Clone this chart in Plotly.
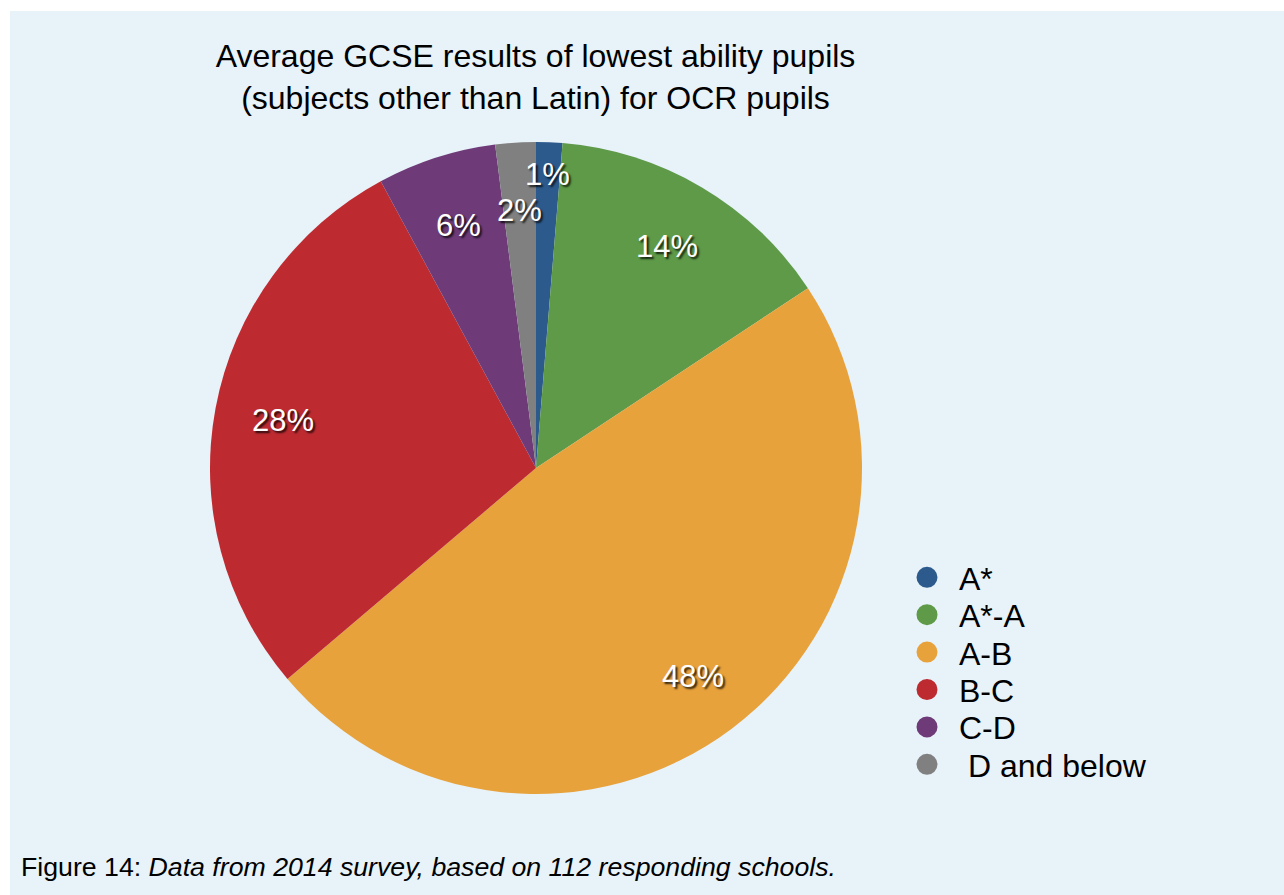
import math
import plotly.graph_objects as go

# ---- data ----
categories = ["A*", "A*-A", "A-B", "B-C", "C-D", "\u00a0D and below"]
values = [1.3, 14.4, 48.1, 28.3, 5.9, 2.0]
colors = ["#2D5A8C", "#5E9A48", "#E8A23C", "#BD2B31", "#6E3B78", "#808080"]

title_text = "Average GCSE results of lowest ability pupils<br>(subjects other than Latin) for OCR pupils"
footnote_plain = "Figure 14: "
footnote_italic = "Data from 2014 survey, based on 112 responding schools."

# ---- layout constants (pixels) ----
W, H = 1284, 895
CX, CY, R = 536, 468, 326
BG = "#E7F2F9"
FONT = "Liberation Sans, Arial, Helvetica, sans-serif"
label_radius = [0.9, 0.79, 0.8, 0.79, 0.78, 0.79]

fig = go.Figure()

fig.add_trace(go.Pie(
    labels=categories,
    values=values,
    sort=False,
    direction="clockwise",
    rotation=0,
    marker=dict(colors=colors, line=dict(width=0)),
    textinfo="none",
    hoverinfo="label+percent",
    showlegend=False,
    domain=dict(x=[(CX - R) / W, (CX + R) / W], y=[1 - (CY + R) / H, 1 - (CY - R) / H]),
))

# legend entries as circle markers, one legend per row for exact spacing
legend_layouts = {}
row_y0, row_step = 577.5, 37.4
for i, (cat, col) in enumerate(zip(categories, colors)):
    lname = "legend" if i == 0 else f"legend{i+1}"
    fig.add_trace(go.Scatter(
        x=[None], y=[None], mode="markers", name=cat,
        marker=dict(color=col, size=16, symbol="circle", line=dict(color=col, width=5)),
        legend=lname, showlegend=True,
    ))
    legend_layouts[lname] = dict(
        x=895 / W, xanchor="left",
        y=1 - (row_y0 + i * row_step) / H, yanchor="middle",
        bgcolor="rgba(0,0,0,0)", borderwidth=0,
        itemwidth=54,
        font=dict(family=FONT, size=32, color="#000000"),
        itemclick=False, itemdoubleclick=False,
    )

# percentage labels computed from the data
total = sum(values)
annotations = []
cum = 0.0
for v, rf in zip(values, label_radius):
    mid = (cum + v / 2) / total * 2 * math.pi
    cum += v
    px = CX + rf * R * math.sin(mid)
    py = CY - rf * R * math.cos(mid)
    annotations.append(dict(
        x=px / W, y=1 - py / H, xref="paper", yref="paper",
        text=f"{round(v / total * 100)}%", showarrow=False,
        xanchor="center", yanchor="middle",
        font=dict(family=FONT, size=31, color="#FFFFFF", shadow="2px 2px 2px rgba(0,0,0,0.8)"),
    ))

annotations.append(dict(
    x=19 / W, y=1 - 867 / H, xref="paper", yref="paper",
    text=f"{footnote_plain}<i>{footnote_italic}</i>", showarrow=False,
    xanchor="left", yanchor="middle",
    font=dict(family=FONT, size=26.7, color="#000000"),
))

fig.update_layout(
    width=W, height=H,
    margin=dict(l=0, r=0, t=0, b=0),
    paper_bgcolor="#FFFFFF",
    plot_bgcolor="rgba(0,0,0,0)",
    title=dict(
        text=title_text, x=535.5 / W, xanchor="center", xref="paper",
        y=1 - 67 / H, yanchor="top", yref="paper",
        font=dict(family=FONT, size=32, color="#000000"),
    ),
    xaxis=dict(visible=False),
    yaxis=dict(visible=False),
    annotations=annotations,
    shapes=[dict(type="rect", xref="paper", yref="paper", x0=10 / W, x1=1, y0=0, y1=1 - 11 / H,
                 fillcolor=BG, line=dict(width=0), layer="below")],
    **legend_layouts,
)

fig.write_html("out.html")
